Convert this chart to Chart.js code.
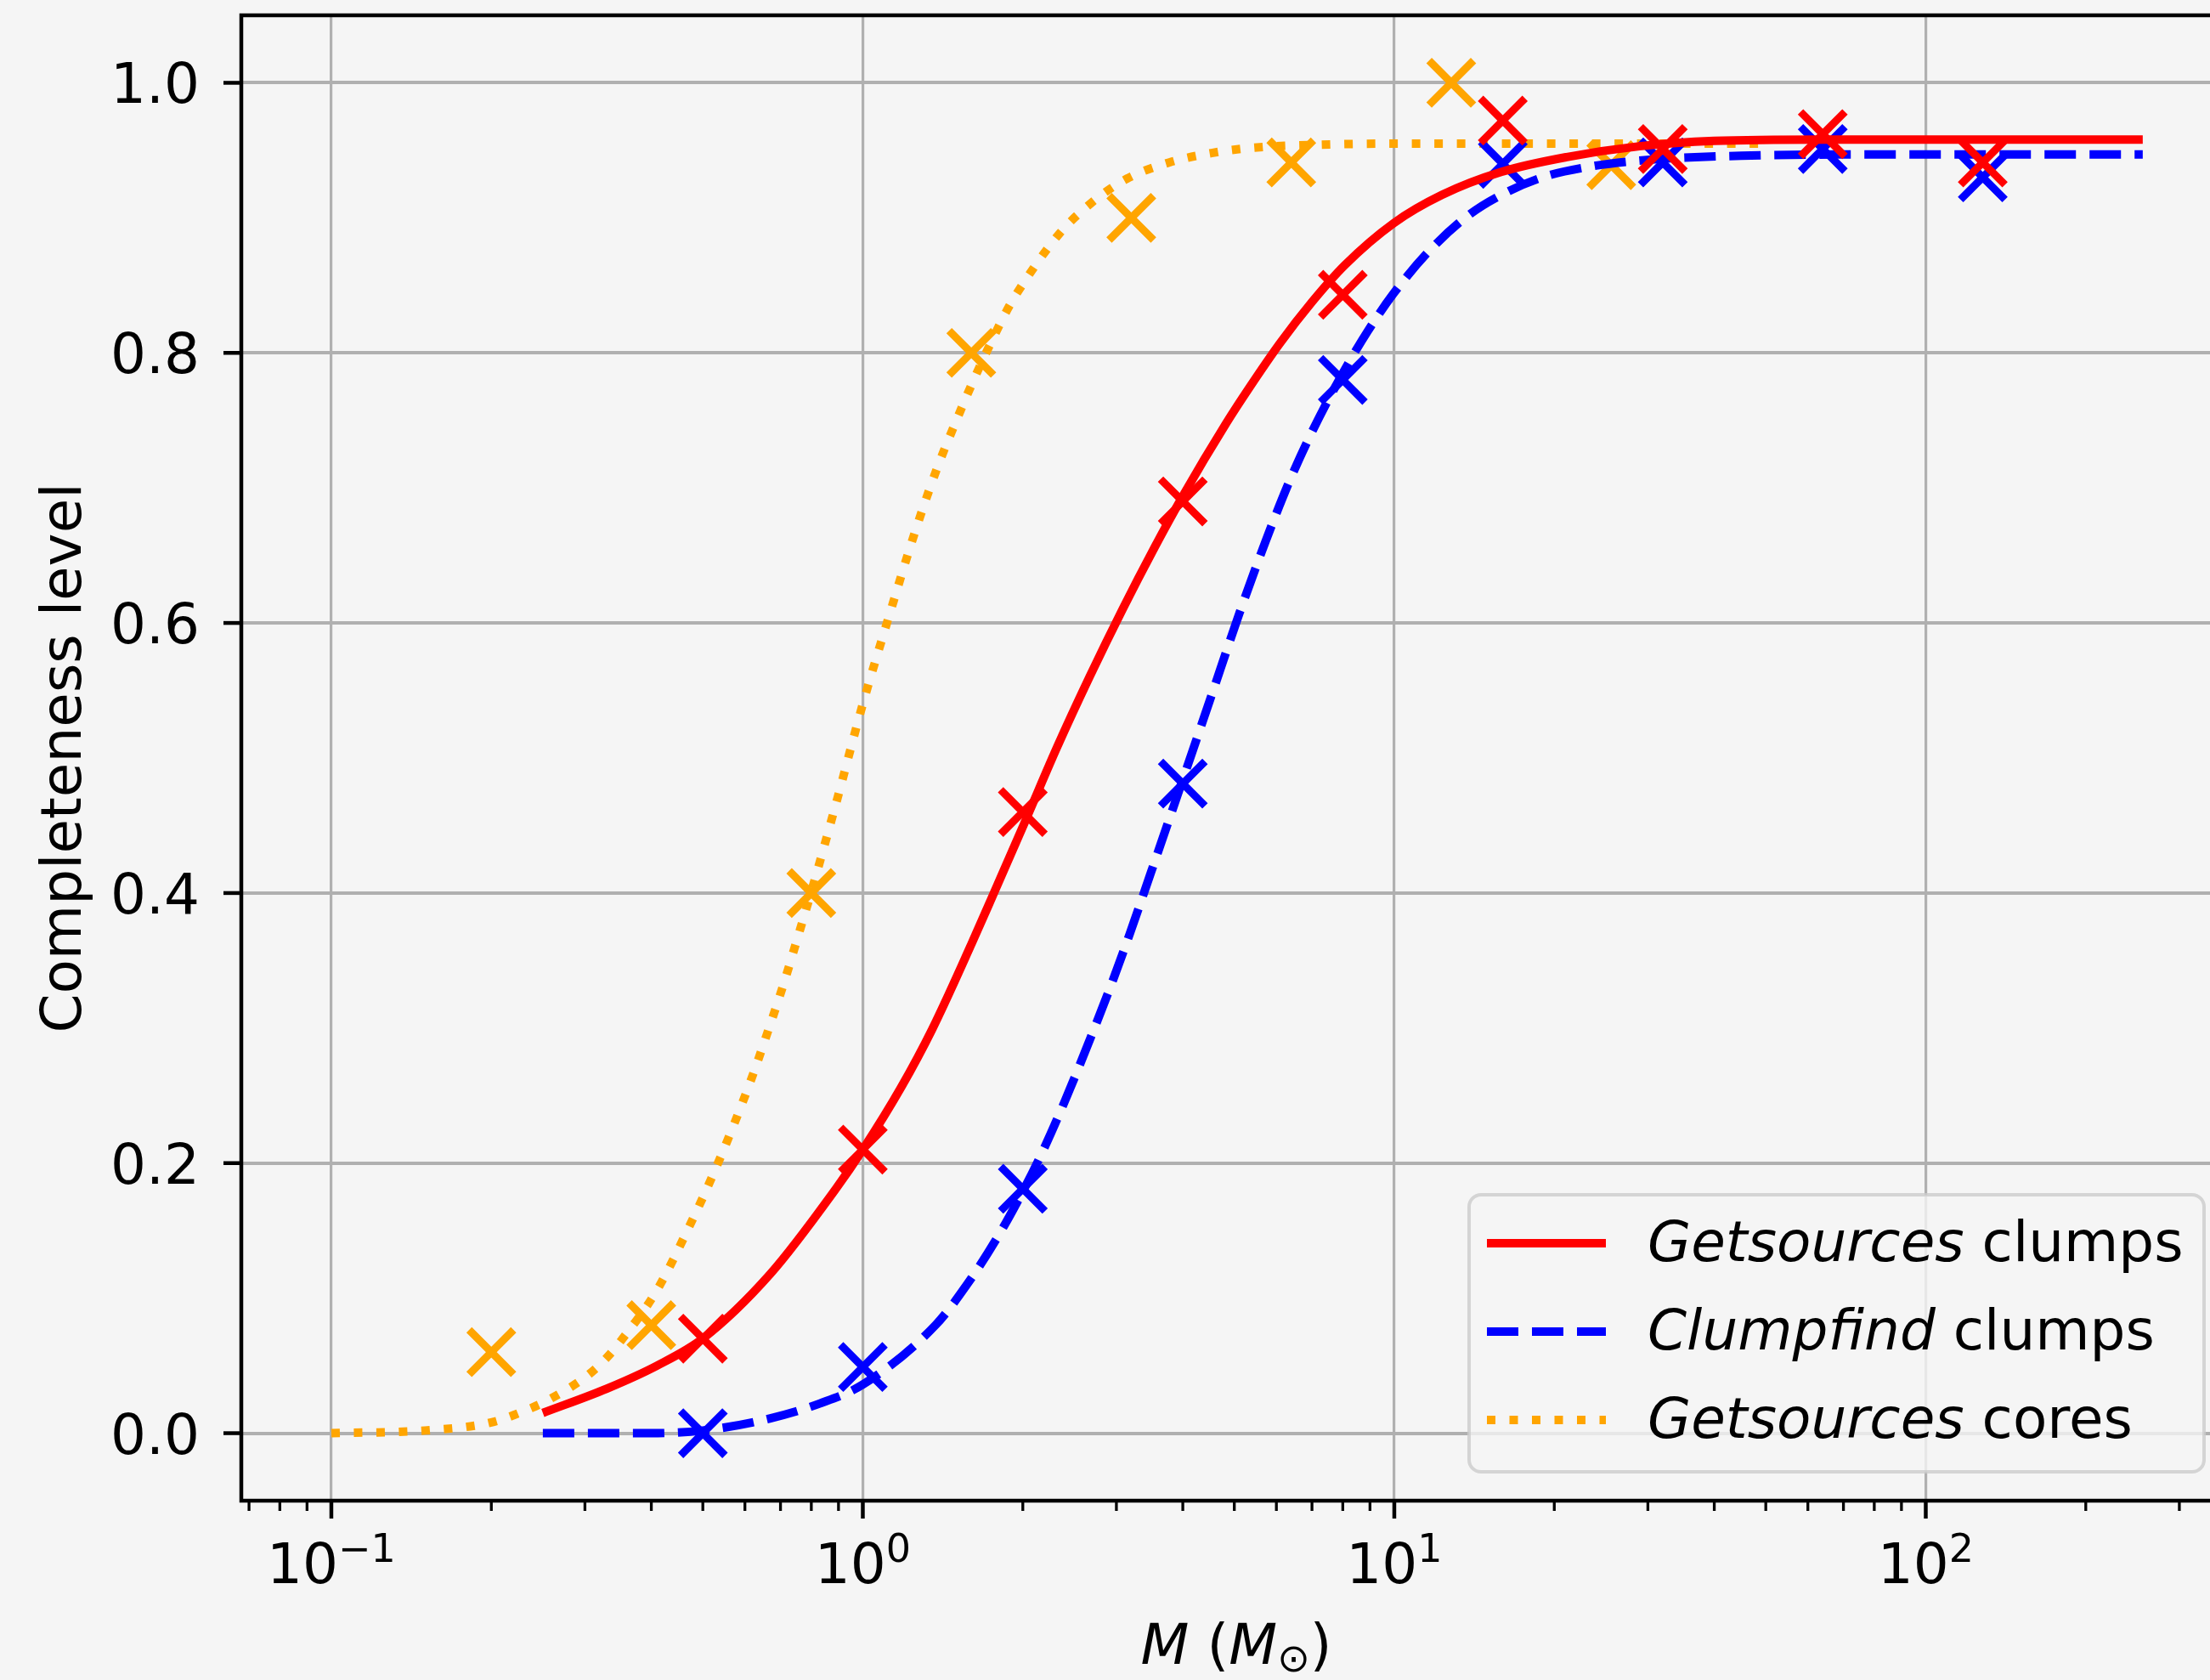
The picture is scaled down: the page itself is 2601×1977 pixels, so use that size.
<!DOCTYPE html>
<html lang="en">
<head>
  <meta charset="UTF-8" />
  <title>Completeness level</title>
  <script src="https://cdn.jsdelivr.net/npm/chart.js"></script>
  <style>
    html, body { margin: 0; padding: 0; background: #f5f5f5; }
    canvas { display: block; }
  </style>
</head>
<body>
  <canvas id="completeness" width="2601" height="1977"></canvas>

  <script>
    // fitted completeness curves (mass in Msun, completeness level)
    const gsClumpFitMass  = [0.25, 0.33, 0.41, 0.5, 0.67, 0.89, 1.0, 1.18, 1.35, 1.6, 1.76, 2.02, 2.32, 2.67, 3.08, 3.54, 4.0, 4.83, 5.29, 6.09, 7.01, 8.07, 9.97, 12.3, 15.9, 21.1, 28.9, 40, 64, 128, 256];
    const gsClumpFitLevel = [0.015, 0.033, 0.050, 0.070, 0.118, 0.181, 0.210, 0.256, 0.299, 0.362, 0.399, 0.453, 0.508, 0.560, 0.610, 0.656, 0.694, 0.748, 0.772, 0.807, 0.838, 0.865, 0.896, 0.917, 0.934, 0.945, 0.953, 0.957, 0.958, 0.958, 0.958];

    const cfClumpFitMass  = [0.25, 0.4, 0.5, 0.67, 0.83, 1.0, 1.37, 1.57, 1.81, 2.0, 2.17, 2.40, 2.69, 2.92, 3.18, 3.49, 4.0, 4.5, 5.11, 5.72, 6.35, 7.01, 8.0, 8.91, 9.97, 11.6, 13.8, 15.9, 19.0, 23.4, 30.2, 45, 90, 256];
    const cfClumpFitLevel = [0.0, 0.0, 0.002, 0.011, 0.022, 0.036, 0.080, 0.110, 0.148, 0.179, 0.207, 0.246, 0.294, 0.330, 0.370, 0.416, 0.484, 0.543, 0.607, 0.660, 0.705, 0.742, 0.785, 0.816, 0.844, 0.875, 0.902, 0.917, 0.930, 0.938, 0.943, 0.946, 0.947, 0.947];

    const gsCoreFitMass  = [0.1, 0.15, 0.2, 0.239, 0.26, 0.304, 0.33, 0.35, 0.41, 0.47, 0.53, 0.61, 0.67, 0.71, 0.75, 0.80, 0.89, 1.0, 1.12, 1.26, 1.39, 1.5, 1.6, 1.72, 1.87, 1.97, 2.34, 2.69, 3.14, 3.77, 4.53, 5.44, 7.01, 10, 20, 51.2];
    const gsCoreFitLevel = [0.0, 0.002, 0.008, 0.019, 0.026, 0.043, 0.056, 0.068, 0.106, 0.152, 0.197, 0.257, 0.303, 0.333, 0.364, 0.401, 0.466, 0.540, 0.605, 0.670, 0.718, 0.750, 0.776, 0.803, 0.832, 0.847, 0.888, 0.911, 0.929, 0.941, 0.948, 0.952, 0.954, 0.955, 0.955, 0.955];

    // measured completeness at the injected masses
    const clumpMass        = [0.5, 1, 2, 4, 8, 16, 32, 64, 128];
    const gsClumpMeasured  = [0.07, 0.21, 0.46, 0.69, 0.843, 0.972, 0.951, 0.962, 0.941];
    const cfClumpMeasured  = [0.0, 0.049, 0.181, 0.481, 0.780, 0.940, 0.941, 0.951, 0.930];
    const coreMass         = [0.2, 0.4, 0.8, 1.6, 3.2, 6.4, 12.8, 25.6];
    const gsCoreMeasured   = [0.06, 0.08, 0.40, 0.80, 0.90, 0.941, 1.0, 0.939];

    const yTicks = [0, 0.2, 0.4, 0.6, 0.8, 1.0];
    const xMajorTicks = [0.1, 1, 10, 100];
    const xExponents = ['\u22121', '0', '1', '2'];
    const legendItalic = ['Getsources', 'Clumpfind', 'Getsources'];
    const legendPlain = [' clumps', ' clumps', ' cores'];

    const FONT = '"DejaVu Sans"';
    const BG = '#f5f5f5';
    const GRID = '#b0b0b0';
    const RED = '#ff0000', BLUE = '#0000ff', ORANGE = '#ffa500';

    const xMinorTicks = [];
    [0.01, 0.1, 1, 10, 100].forEach(d => {
      for (let k = 2; k <= 9; k++) xMinorTicks.push(+(d * k).toPrecision(3));
    });

    function pairs(xs, ys) {
      return xs.map((x, i) => ({ x, y: ys[i] }));
    }

    function fitLine(mass, level, color, dash) {
      return {
        data: pairs(mass, level),
        borderColor: color,
        borderWidth: 10,
        borderDash: dash,
        borderCapStyle: 'butt',
        borderJoinStyle: 'round',
        pointRadius: 0,
        pointHoverRadius: 0,
        cubicInterpolationMode: 'monotone',
        fill: false
      };
    }

    function markers(mass, level, color) {
      return {
        data: pairs(mass, level),
        showLine: false,
        pointStyle: 'crossRot',
        pointRadius: 37,
        pointHoverRadius: 37,
        pointBorderWidth: 9,
        pointBorderColor: color,
        pointBackgroundColor: color
      };
    }

    const gsClumpLine = fitLine(gsClumpFitMass, gsClumpFitLevel, RED, []);
    const cfClumpLine = fitLine(cfClumpFitMass, cfClumpFitLevel, BLUE, [37, 16]);
    const gsCoreLine = fitLine(gsCoreFitMass, gsCoreFitLevel, ORANGE, [10, 16.5]);

    // draw a row of text pieces (mixed fonts / raised pieces), centred or left-aligned
    function drawRuns(ctx, runs, x, baseline, align) {
      let total = 0;
      runs.forEach(r => { ctx.font = r.font; r.w = ctx.measureText(r.text).width; total += r.w; });
      let cx = align === 'left' ? x : x - total / 2;
      ctx.textAlign = 'left';
      ctx.textBaseline = 'alphabetic';
      runs.forEach(r => {
        ctx.font = r.font;
        ctx.fillText(r.text, cx, baseline + (r.dy || 0));
        cx += r.w;
      });
    }

    const decor = {
      id: 'decor',
      beforeDraw(chart) {
        const ctx = chart.ctx;
        ctx.save();
        ctx.fillStyle = BG;
        ctx.fillRect(0, 0, chart.width, chart.height);
        ctx.restore();
      },
      afterDraw(chart) {
        const ctx = chart.ctx;
        const a = chart.chartArea;
        const xs = chart.scales.x, ys = chart.scales.y;
        const main = `66px ${FONT}`, ital = `italic 66px ${FONT}`, small = `46px ${FONT}`;
        ctx.save();
        ctx.fillStyle = '#000';
        ctx.strokeStyle = '#000';

        // spines (the right one falls just past the canvas)
        ctx.lineWidth = 4.5;
        ctx.beginPath();
        ctx.moveTo(a.left, a.top); ctx.lineTo(a.right, a.top);
        ctx.moveTo(a.left, a.bottom); ctx.lineTo(a.right, a.bottom);
        ctx.moveTo(a.left, a.top - 2.25); ctx.lineTo(a.left, a.bottom + 2.25);
        ctx.stroke();

        // y ticks and labels
        yTicks.forEach(v => {
          const py = ys.getPixelForValue(v);
          ctx.lineWidth = 4.5;
          ctx.beginPath();
          ctx.moveTo(a.left - 21, py); ctx.lineTo(a.left, py);
          ctx.stroke();
          ctx.font = main;
          ctx.textAlign = 'right';
          ctx.textBaseline = 'alphabetic';
          ctx.fillText(v.toFixed(1), a.left - 49, py + 24);
        });

        // x minor ticks
        ctx.lineWidth = 3.3;
        xMinorTicks.filter(v => v > xs.min && v < xs.max).forEach(v => {
          const px = xs.getPixelForValue(v);
          ctx.beginPath();
          ctx.moveTo(px, a.bottom); ctx.lineTo(px, a.bottom + 12);
          ctx.stroke();
        });

        // x major ticks with 10^n labels
        xMajorTicks.forEach((v, i) => {
          const px = xs.getPixelForValue(v);
          ctx.lineWidth = 4.5;
          ctx.beginPath();
          ctx.moveTo(px, a.bottom); ctx.lineTo(px, a.bottom + 21);
          ctx.stroke();
          drawRuns(ctx, [
            { text: '10', font: main },
            { text: xExponents[i], font: small, dy: -25 }
          ], px, a.bottom + 97);
        });

        // axis titles
        drawRuns(ctx, [
          { text: 'M', font: ital },
          { text: ' (', font: main },
          { text: 'M', font: ital },
          { text: '\u2299', font: small, dy: 9 },
          { text: ')', font: main }
        ], a.left + (a.width + 25) / 2, a.bottom + 192);

        ctx.save();
        ctx.translate(95, (a.top + a.bottom) / 2);
        ctx.rotate(-Math.PI / 2);
        ctx.font = main;
        ctx.textAlign = 'center';
        ctx.textBaseline = 'alphabetic';
        ctx.fillText('Completeness level', 0, 0);
        ctx.restore();

        // legend, lower right
        const bx = a.right - 872, by = a.bottom - 360, bw = 865, bh = 326;
        ctx.beginPath();
        ctx.roundRect(bx, by, bw, bh, 14);
        ctx.fillStyle = 'rgba(245,245,245,0.8)';
        ctx.fill();
        ctx.lineWidth = 4;
        ctx.strokeStyle = 'rgba(204,204,204,0.8)';
        ctx.stroke();

        [gsClumpLine, cfClumpLine, gsCoreLine].forEach((ds, i) => {
          const ry = by + 57 + i * 104;
          ctx.save();
          ctx.strokeStyle = ds.borderColor;
          ctx.lineWidth = ds.borderWidth;
          ctx.lineCap = 'butt';
          ctx.setLineDash(ds.borderDash);
          ctx.beginPath();
          ctx.moveTo(bx + 21, ry); ctx.lineTo(bx + 161, ry);
          ctx.stroke();
          ctx.restore();
          ctx.fillStyle = '#000';
          drawRuns(ctx, [
            { text: legendItalic[i], font: ital },
            { text: legendPlain[i], font: main }
          ], bx + 210, ry + 21, 'left');
        });

        ctx.restore();
      }
    };

    new Chart(document.getElementById('completeness'), {
      type: 'line',
      data: {
        datasets: [
          markers(clumpMass, gsClumpMeasured, RED),
          gsClumpLine,
          markers(clumpMass, cfClumpMeasured, BLUE),
          cfClumpLine,
          markers(coreMass, gsCoreMeasured, ORANGE),
          gsCoreLine
        ]
      },
      options: {
        responsive: false,
        devicePixelRatio: 1,
        animation: false,
        events: [],
        layout: { autoPadding: false, padding: { top: 18, left: 0, right: 0, bottom: 0 } },
        plugins: { legend: { display: false }, tooltip: { enabled: false } },
        scales: {
          x: {
            type: 'logarithmic',
            min: 0.0677,
            max: 342.6,
            afterBuildTicks: s => {
              const t = xMajorTicks.map(v => ({ value: v, major: true }))
                .concat(xMinorTicks.filter(v => v > s.min && v < s.max).map(v => ({ value: v, major: false })));
              s.ticks = t.sort((p, q) => p.value - q.value);
            },
            afterFit: s => { s.height = 211; },
            ticks: { display: false, autoSkip: false },
            grid: {
              color: c => (c.tick && c.tick.major ? GRID : 'rgba(0,0,0,0)'),
              lineWidth: 3.2,
              drawTicks: false
            },
            border: { display: false }
          },
          y: {
            min: -0.05,
            max: 1.05,
            afterBuildTicks: s => { s.ticks = yTicks.map(v => ({ value: v })); },
            afterFit: s => { s.width = 284; },
            ticks: { display: false },
            grid: { color: GRID, lineWidth: 4, drawTicks: false },
            border: { display: false }
          }
        }
      },
      plugins: [decor]
    });
  </script>
</body>
</html>
